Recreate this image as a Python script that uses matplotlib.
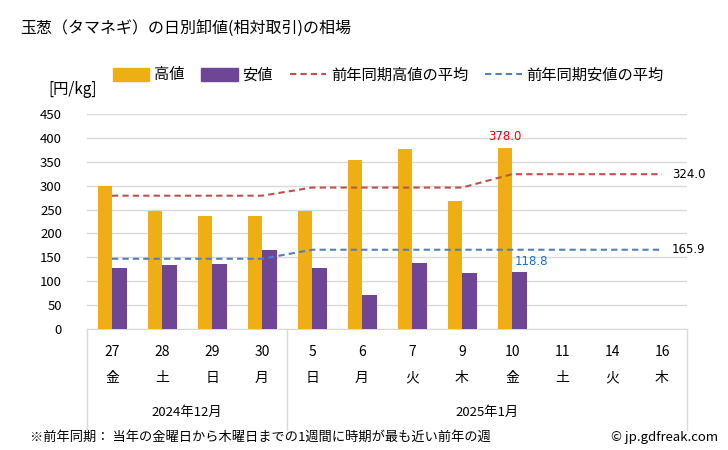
import numpy as np
import matplotlib.pyplot as plt
from matplotlib.patches import Patch
from matplotlib.lines import Line2D
import matplotlib.transforms as mtransforms

plt.rcParams['font.family'] = ['Noto Sans CJK JP', 'DejaVu Sans']

# データ
days = ['27', '28', '29', '30', '5', '6', '7', '9', '10', '11', '14', '16']
weekdays = ['金', '土', '日', '月', '日', '月', '火', '木', '金', '土', '火', '木']
months = ['2024年12月', '2025年1月']
month_span = [(0, 3), (4, 11)]
high = [300, 247, 236, 236, 246, 353, 377, 267, 378.0, np.nan, np.nan, np.nan]
low = [127, 133, 137, 165, 127, 71, 138, 117, 118.8, np.nan, np.nan, np.nan]
prev_high = [279, 279, 279, 279, 296, 296, 296, 296, 324.0, 324.0, 324.0, 324.0]
prev_low = [147, 147, 147, 147, 165.9, 165.9, 165.9, 165.9, 165.9, 165.9, 165.9, 165.9]

c_high = '#EEAF14'
c_low = '#6F4596'
c_phigh = '#C0504D'
c_plow = '#4F81BD'

fig = plt.figure(figsize=(7.28, 4.5), dpi=100)
ax = fig.add_axes([87 / 728, 1 - 329 / 450, 600 / 728, 215 / 450])

x = np.arange(len(days))
w = 0.29
ax.bar(x - w / 2, high, width=w, color=c_high, zorder=3)
ax.bar(x + w / 2, low, width=w, color=c_low, zorder=3)
ax.plot(x, prev_high, color=c_phigh, linestyle=(0, (3, 2)), linewidth=1.5, zorder=4)
ax.plot(x, prev_low, color=c_plow, linestyle=(0, (3, 2)), linewidth=1.5, zorder=4)

ax.set_xlim(-0.5, len(days) - 0.5)
ax.set_ylim(0, 450)
ax.set_yticks(np.arange(0, 451, 50))
ax.tick_params(axis='y', length=0, labelsize=9.5, pad=18)
ax.set_xticks([])
ax.grid(axis='y', color='#d9d9d9', linewidth=1, zorder=0)
for s in ['top', 'right', 'left']:
    ax.spines[s].set_visible(False)
ax.spines['bottom'].set_color('#d9d9d9')

# 注記
imax = int(np.nanargmax(high))
ax.text(x[imax] - w / 2, high[imax] + 12, f'{high[imax]:.1f}', color='red',
        ha='center', va='bottom', fontsize=8.5, family='DejaVu Sans')
ilast = int(np.where(~np.isnan(low))[0][-1])
ax.text(x[ilast] + 0.38, low[ilast] + 8, f'{low[ilast]:.1f}', color='#1f6fbf',
        ha='center', va='bottom', fontsize=8.5, family='DejaVu Sans')
ax.text(x[-1] + 0.2, prev_high[-1], f'{prev_high[-1]:.1f}', ha='left', va='center',
        fontsize=8.5, family='DejaVu Sans')
ax.text(x[-1] + 0.2, prev_low[-1], f'{prev_low[-1]:.1f}', ha='left', va='center',
        fontsize=8.5, family='DejaVu Sans')

# x軸ラベル
trans = mtransforms.blended_transform_factory(ax.transData, ax.transAxes)
for i, (d, wd) in enumerate(zip(days, weekdays)):
    ax.text(i, -0.107, d, transform=trans, ha='center', va='center', fontsize=10)
    ax.text(i, -0.228, wd, transform=trans, ha='center', va='center', fontsize=10)
for m, (a, b) in zip(months, month_span):
    ax.text((a + b) / 2, -0.386, m, transform=trans, ha='center', va='center', fontsize=9.5)
for xb in [-0.5, 3.5, 11.5]:
    ax.plot([xb, xb], [0, -0.47], transform=trans, color='#d9d9d9', linewidth=1,
            clip_on=False)

# タイトルなど
fig.text(20 / 728, 1 - 28 / 450, '玉葱（タマネギ）の日別卸値(相対取引)の相場', fontsize=11.5,
         va='center', ha='left')
fig.text(48 / 728, 1 - 89 / 450, '[円/kg]', fontsize=11, va='center', ha='left')
fig.text(30 / 728, 1 - 437 / 450, '※前年同期： 当年の金曜日から木曜日までの1週間に時期が最も近い前年の週',
         fontsize=9.5, va='center', ha='left')
fig.text(718 / 728, 1 - 437 / 450, '© jp.gdfreak.com', fontsize=9.5, va='center', ha='right')

handles = [
    Patch(color=c_high, label='高値'),
    Patch(color=c_low, label='安値'),
    Line2D([], [], color=c_phigh, linestyle=(0, (3, 2)), linewidth=1.5, label='前年同期高値の平均'),
    Line2D([], [], color=c_plow, linestyle=(0, (3, 2)), linewidth=1.5, label='前年同期安値の平均'),
]
fig.legend(handles=handles, loc='center', bbox_to_anchor=(388 / 728, 1 - 75 / 450), ncol=4,
           frameon=False, fontsize=11, handlelength=2.4, handleheight=0.9,
           handletextpad=0.3, columnspacing=1.1)

fig.savefig('out.png', dpi=100)
